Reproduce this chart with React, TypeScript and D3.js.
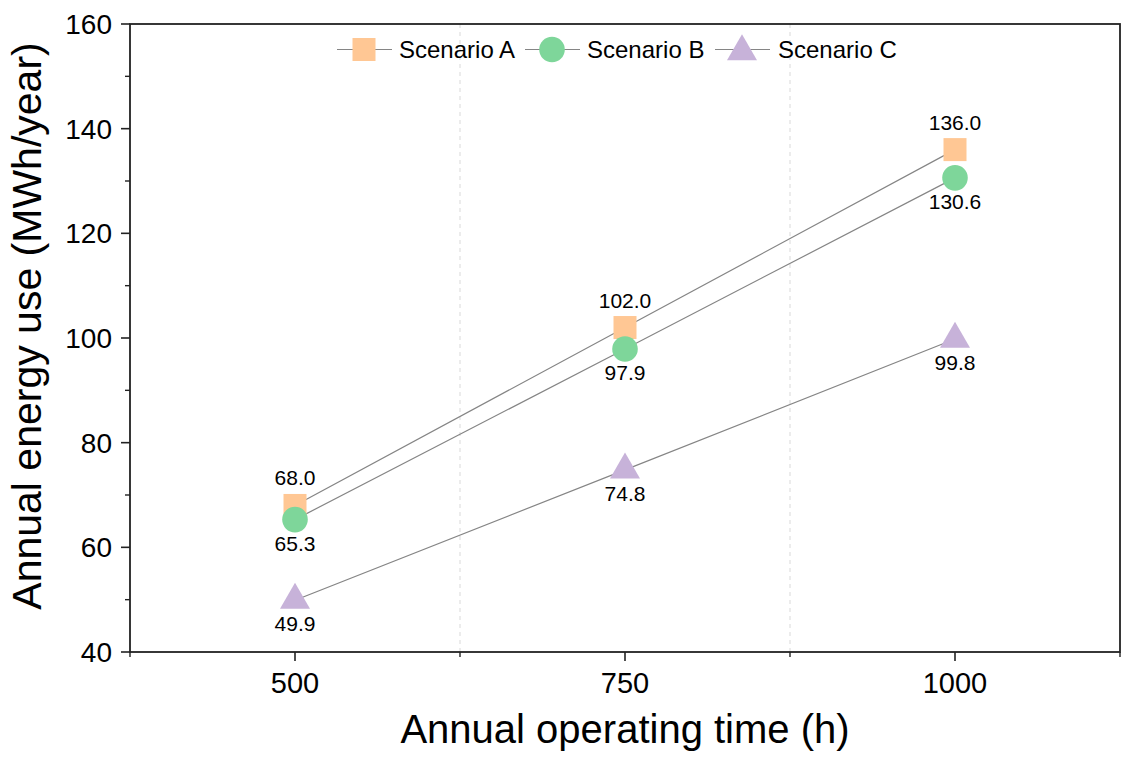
import React from "react";
import * as d3 from "d3";

const hours = [500, 750, 1000];
const scenarioA = [68.0, 102.0, 136.0];
const scenarioB = [65.3, 97.9, 130.6];
const scenarioC = [49.9, 74.8, 99.8];
const seriesNames = ["Scenario A", "Scenario B", "Scenario C"];
const yMajorTicks = [40, 60, 80, 100, 120, 140, 160];
const yMinorTicks = [50, 70, 90, 110, 130, 150];
const xMajorTicks = [500, 750, 1000];
const xMinorTicks = [375, 625, 875, 1125];
const gridTicks = [625, 875];

const W = 1130;
const H = 763;
const left = 130;
const right = 1120;
const top = 24;
const bottom = 652;
const FONT = "'Liberation Sans', Arial, Helvetica, sans-serif";

const colors = ["#FFC794", "#7ED69A", "#C7B2D9"];
const shapes = ["square", "circle", "triangle"];
const labelOffsets = [-20, 31, 31];

function Marker({ shape, color, cx, cy }: { shape: string; color: string; cx: number; cy: number }) {
  if (shape === "square") {
    return <rect x={cx - 11.5} y={cy - 11.5} width={23} height={23} fill={color} />;
  }
  if (shape === "circle") {
    return <circle cx={cx} cy={cy} r={12.8} fill={color} />;
  }
  const p = d3.symbol().type(d3.symbolTriangle).size(390)();
  return <path d={p || ""} transform={`translate(${cx},${cy})`} fill={color} />;
}

export default function App() {
  const x = d3.scaleLinear().domain([375, 1125]).range([left, right]);
  const y = d3.scaleLinear().domain([40, 160]).range([bottom, top]);
  const series = [scenarioA, scenarioB, scenarioC];
  const line = d3
    .line<number>()
    .x((_, i) => x(hours[i]))
    .y((d) => y(d));

  const legendItems = [
    { lx: 337, mx: 364, tx: 399 },
    { lx: 525, mx: 552, tx: 587 },
    { lx: 715, mx: 742, tx: 778 },
  ];
  const legendY = 49.5;

  return (
    <svg
      width={W}
      height={H}
      viewBox={`0 0 ${W} ${H}`}
      style={{ position: "absolute", left: 0, top: 0, background: "#fff" }}
      fontFamily={FONT}
    >
      <rect x={0} y={0} width={W} height={H} fill="#fff" />
      {/* grid */}
      {gridTicks.map((t) => (
        <line
          key={"g" + t}
          x1={x(t)}
          x2={x(t)}
          y1={top}
          y2={bottom}
          stroke="#d9d9d9"
          strokeWidth={1}
          strokeDasharray="4,4"
        />
      ))}
      {/* series lines */}
      {series.map((s, k) => (
        <path key={"l" + k} d={line(s) || ""} fill="none" stroke="#858585" strokeWidth={1.2} />
      ))}
      {/* markers */}
      {series.map((s, k) =>
        s.map((v, i) => (
          <Marker key={"m" + k + i} shape={shapes[k]} color={colors[k]} cx={x(hours[i])} cy={y(v)} />
        ))
      )}
      {/* data labels */}
      {series.map((s, k) =>
        s.map((v, i) => (
          <text
            key={"t" + k + i}
            x={x(hours[i])}
            y={y(v) + labelOffsets[k]}
            textAnchor="middle"
            fontSize={21}
            fill="#000"
          >
            {v.toFixed(1)}
          </text>
        ))
      )}
      {/* frame */}
      <rect x={left} y={top} width={right - left} height={bottom - top} fill="none" stroke="#222" strokeWidth={1.8} />
      {/* y ticks */}
      {yMajorTicks.map((t) => (
        <g key={"ym" + t}>
          <line x1={left - 9} x2={left} y1={y(t)} y2={y(t)} stroke="#222" strokeWidth={1.6} />
          <text x={112} y={y(t)} dy="0.36em" textAnchor="end" fontSize={28} fill="#000">
            {t}
          </text>
        </g>
      ))}
      {yMinorTicks.map((t) => (
        <line key={"yn" + t} x1={left - 5} x2={left} y1={y(t)} y2={y(t)} stroke="#222" strokeWidth={1.4} />
      ))}
      {/* x ticks */}
      {xMajorTicks.map((t) => (
        <g key={"xm" + t}>
          <line x1={x(t)} x2={x(t)} y1={bottom} y2={bottom + 9} stroke="#222" strokeWidth={1.6} />
          <text x={x(t)} y={693} textAnchor="middle" fontSize={29} fill="#000">
            {t}
          </text>
        </g>
      ))}
      {xMinorTicks.map((t) => (
        <line key={"xn" + t} x1={x(t)} x2={x(t)} y1={bottom} y2={bottom + 5} stroke="#222" strokeWidth={1.4} />
      ))}
      {/* axis titles */}
      <text x={625} y={743} textAnchor="middle" fontSize={40} fill="#000">
        Annual operating time (h)
      </text>
      <text
        transform={`translate(41,326) rotate(-90)`}
        textAnchor="middle"
        fontSize={41}
        fill="#000"
      >
        Annual energy use (MWh/year)
      </text>
      {/* legend */}
      {legendItems.map((it, k) => (
        <g key={"lg" + k}>
          <line x1={it.lx} x2={it.lx + 55} y1={legendY} y2={legendY} stroke="#858585" strokeWidth={1.2} />
          <Marker shape={shapes[k]} color={colors[k]} cx={it.mx} cy={legendY + (k === 2 ? 2 : 0)} />
          <text x={it.tx} y={legendY} dy="0.35em" fontSize={24} fill="#000">
            {seriesNames[k]}
          </text>
        </g>
      ))}
    </svg>
  );
}
